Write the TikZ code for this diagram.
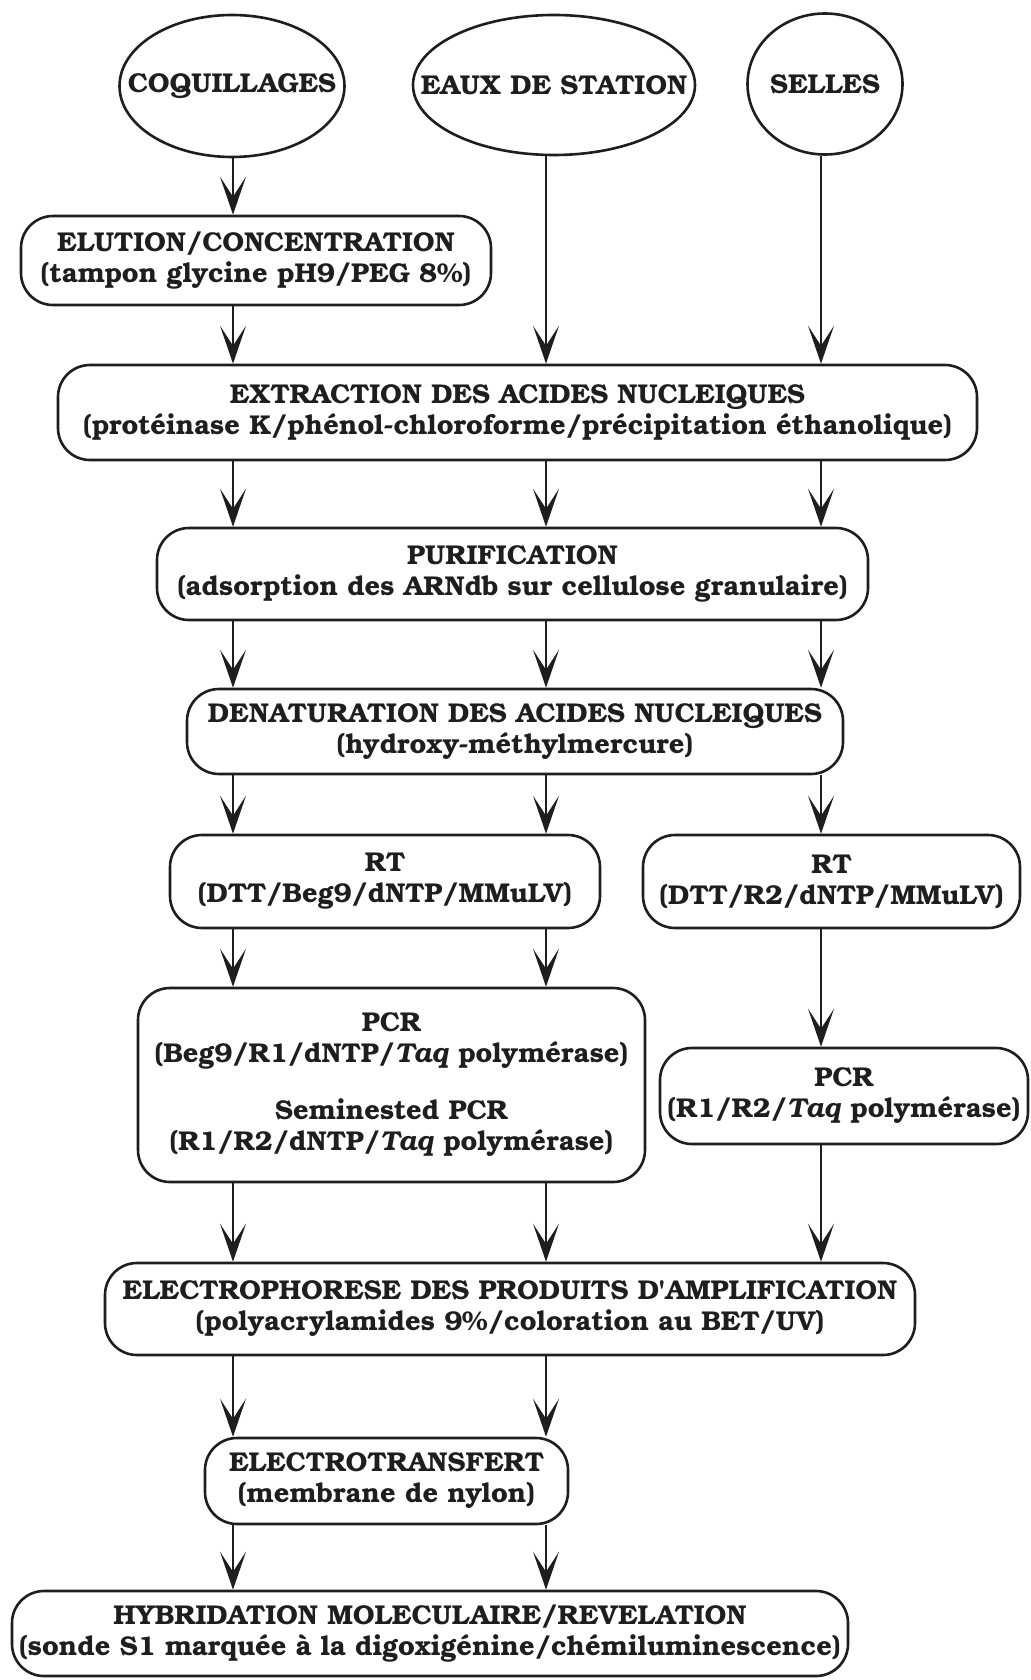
\documentclass[tikz,border=0pt]{standalone}
\usepackage{fontspec}
\setmainfont{texgyrebonum}[
  Extension=.otf,
  UprightFont=*-regular,
  BoldFont=*-bold,
  ItalicFont=*-italic,
  BoldItalicFont=*-bolditalic]
\usetikzlibrary{arrows.meta,shapes.geometric}

\definecolor{ink}{HTML}{1E1E1E}

\tikzset{
  lbl/.style={font=\fontsize{13.6pt}{15.5pt}\selectfont\bfseries, text=ink,
    align=center, inner sep=0pt},
  source/.style={lbl, ellipse, draw=ink, line width=1.3pt},
  stage/.style={lbl, draw=ink, line width=1.3pt, rounded corners=16pt},
  flow/.style={draw=ink, line width=1pt,
    -{Stealth[length=19pt, width=13pt, inset=10pt]}},
}

\begin{document}
\begin{tikzpicture}[x=0.5pt, y=-0.5pt]
  \fill[white] (0,0) rectangle (1030,1680);
  \useasboundingbox (0,0) rectangle (1030,1680);

  % columns of the three sample streams
  \coordinate (colL) at (233,0);
  \coordinate (colM) at (546,0);
  \coordinate (colR) at (821,0);

  % samples
  \node[source, minimum width=112.5pt, minimum height=71pt] (coq) at (232,86)
    {\makebox[0pt]{COQUILLAGES}};
  \node[source, minimum width=141pt, minimum height=70pt] (eaux) at (554,85)
    {\makebox[0pt]{EAUX DE STATION}};
  \node[source, minimum width=77.5pt, minimum height=70.5pt] (selles) at (825,84)
    {\makebox[0pt]{SELLES}};

  % processing stages
  \node[stage, minimum width=235pt, minimum height=44.5pt] (elution) at (256,260.5)
    {ELUTION/CONCENTRATION\\(tampon glycine pH9/PEG 8\%)};
  \node[stage, minimum width=459.5pt, minimum height=47.5pt] (extraction) at (517.5,412.5)
    {EXTRACTION DES ACIDES NUCLEIQUES\\(protéinase K/phénol-chloroforme/précipitation éthanolique)};
  \node[stage, minimum width=355.5pt, minimum height=46pt] (purif) at (512.5,574)
    {PURIFICATION\\(adsorption des ARNdb sur cellulose granulaire)};
  \node[stage, minimum width=328pt, minimum height=42.5pt] (denat) at (515,731.5)
    {DENATURATION DES ACIDES NUCLEIQUES\\(hydroxy-méthylmercure)};
  \node[stage, minimum width=215pt, minimum height=46.5pt] (rtA) at (385,881.5)
    {RT\\(DTT/Beg9/dNTP/MMuLV)};
  \node[stage, minimum width=188.5pt, minimum height=46.5pt] (rtB) at (831.5,881.5)
    {RT\\(DTT/R2/dNTP/MMuLV)};
  \node[stage, minimum width=253.5pt, minimum height=97pt] (pcrA) at (391.5,1085)
    {PCR\\(Beg9/R1/dNTP/\textit{Taq} polymérase)\\[13pt]
     Seminested PCR\\(R1/R2/dNTP/\textit{Taq} polymérase)};
  \node[stage, minimum width=184pt, minimum height=48pt] (pcrB) at (844,1096)
    {PCR\\(R1/R2/\textit{Taq} polymérase)};
  \node[stage, minimum width=405pt, minimum height=46pt] (electro) at (510,1309)
    {ELECTROPHORESE DES PRODUITS D\textquotesingle AMPLIFICATION\\(polyacrylamides 9\%/coloration au BET/UV)};
  \node[stage, minimum width=181.5pt, minimum height=43pt] (transfert) at (386.5,1481)
    {ELECTROTRANSFERT\\(membrane de nylon)};
  \node[stage, minimum width=418pt, minimum height=42.5pt] (hybrid) at (430,1633.5)
    {HYBRIDATION MOLECULAIRE/REVELATION\\(sonde S1 marquée à la digoxigénine/chémiluminescence)};

  % connectors
  \draw[flow] (coq.south -| colL) -- (elution.north -| colL);
  \draw[flow] (elution.south -| colL) -- (extraction.north -| colL);
  \draw[flow] (eaux.south -| colM) -- (extraction.north -| colM);
  \draw[flow] (selles.south -| colR) -- (extraction.north -| colR);

  \foreach \c in {colL,colM,colR} {
    \draw[flow] (extraction.south -| \c) -- (purif.north -| \c);
    \draw[flow] (purif.south -| \c) -- (denat.north -| \c);
  }
  \foreach \c in {colL,colM} {
    \draw[flow] (denat.south -| \c) -- (rtA.north -| \c);
    \draw[flow] (rtA.south -| \c) -- (pcrA.north -| \c);
    \draw[flow] (pcrA.south -| \c) -- (electro.north -| \c);
    \draw[flow] (electro.south -| \c) -- (transfert.north -| \c);
    \draw[flow] (transfert.south -| \c) -- (hybrid.north -| \c);
  }
  \draw[flow] (denat.south -| colR) -- (rtB.north -| colR);
  \draw[flow] (rtB.south -| colR) -- (pcrB.north -| colR);
  \draw[flow] (pcrB.south -| colR) -- (electro.north -| colR);
\end{tikzpicture}
\end{document}
